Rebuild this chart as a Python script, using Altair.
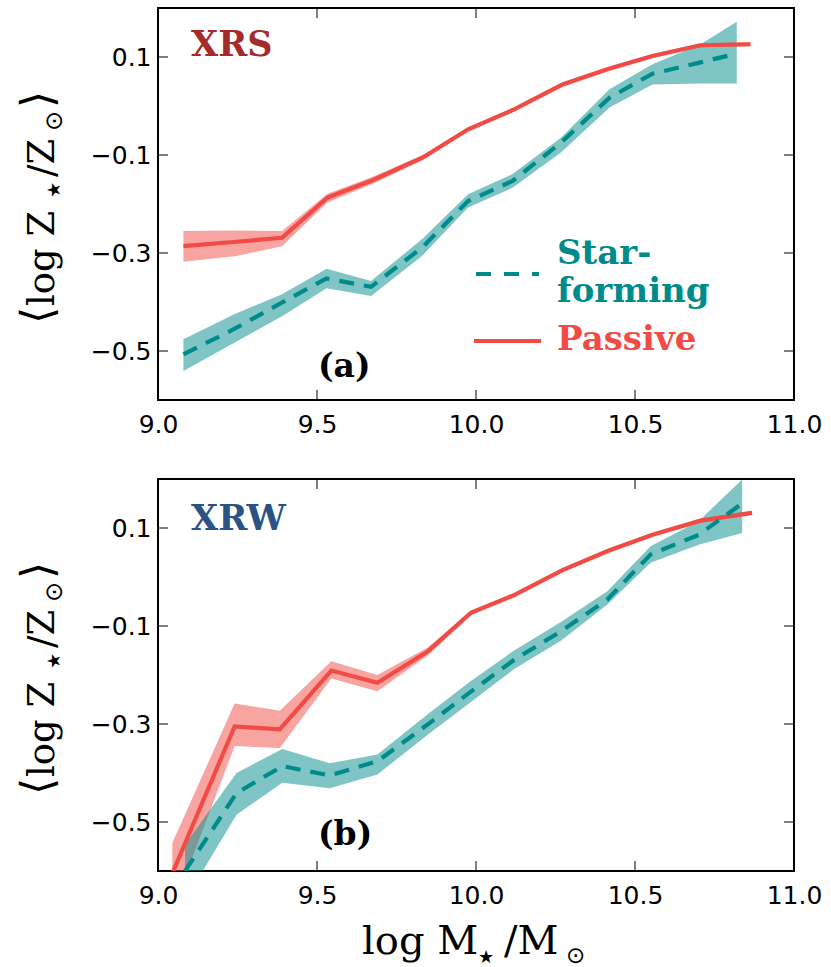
import altair as alt
import pandas as pd

# ---------------- data ----------------
X_TICKS = [9.0, 9.5, 10.0, 10.5, 11.0]
Y_TICKS = [0.1, -0.1, -0.3, -0.5]

# Panel (a) XRS
xrs_pas_x = [9.08, 9.247, 9.39, 9.533, 9.677, 9.833, 9.974, 10.12, 10.272, 10.418, 10.555, 10.706, 10.863]
xrs_pas_y = [-0.286, -0.277, -0.269, -0.187, -0.151, -0.105, -0.048, -0.007, 0.044, 0.076, 0.102, 0.124, 0.126]
xrs_pas_lo = [-0.318, -0.306, -0.286, -0.197, -0.158, -0.110, -0.052, -0.011, 0.040, 0.072, 0.098, 0.120, 0.122]
xrs_pas_hi = [-0.255, -0.254, -0.255, -0.179, -0.144, -0.100, -0.044, -0.003, 0.048, 0.080, 0.106, 0.128, 0.130]

xrs_sf_x = [9.08, 9.24, 9.39, 9.53, 9.67, 9.83, 9.975, 10.115, 10.267, 10.42, 10.555, 10.706, 10.82]
xrs_sf_y = [-0.507, -0.455, -0.401, -0.352, -0.369, -0.289, -0.194, -0.153, -0.075, 0.017, 0.066, 0.089, 0.107]
xrs_sf_lo = [-0.541, -0.483, -0.429, -0.372, -0.388, -0.306, -0.207, -0.167, -0.095, -0.003, 0.044, 0.046, 0.046]
xrs_sf_hi = [-0.476, -0.425, -0.384, -0.332, -0.357, -0.272, -0.180, -0.139, -0.065, 0.034, 0.085, 0.126, 0.172]

# Panel (b) XRW
xrw_pas_x = [9.045, 9.241, 9.383, 9.545, 9.69, 9.848, 9.984, 10.12, 10.272, 10.418, 10.555, 10.706, 10.868]
xrw_pas_y = [-0.605, -0.305, -0.311, -0.191, -0.216, -0.152, -0.073, -0.037, 0.014, 0.054, 0.086, 0.115, 0.131]
xrw_pas_lo = [-0.680, -0.345, -0.349, -0.207, -0.233, -0.160, -0.077, -0.041, 0.010, 0.050, 0.082, 0.111, 0.127]
xrw_pas_hi = [-0.543, -0.258, -0.273, -0.172, -0.200, -0.144, -0.069, -0.033, 0.018, 0.058, 0.090, 0.119, 0.135]

xrw_sf_x = [9.085, 9.247, 9.391, 9.54, 9.69, 9.848, 9.984, 10.12, 10.267, 10.413, 10.549, 10.70, 10.837]
xrw_sf_y = [-0.600, -0.441, -0.386, -0.405, -0.376, -0.301, -0.234, -0.169, -0.111, -0.046, 0.046, 0.086, 0.150]
xrw_sf_lo = [-0.660, -0.485, -0.420, -0.431, -0.403, -0.322, -0.255, -0.188, -0.130, -0.056, 0.029, 0.066, 0.090]
xrw_sf_hi = [-0.546, -0.400, -0.351, -0.380, -0.362, -0.280, -0.212, -0.150, -0.092, -0.029, 0.063, 0.114, 0.199]

# ---------------- styling ----------------
W, H = 636, 392
TEAL = "#008B8B"
RED = "#F24B45"
SERIF = "DejaVu Serif, DejaVu Sans"
SANS = "DejaVu Sans"
TICK = 10

xs = alt.Scale(domain=[9, 11], nice=False, zero=False)
ys = alt.Scale(domain=[-0.6, 0.2], nice=False, zero=False)
xax = alt.Axis(values=X_TICKS, format=".1f", ticks=False, tickSize=0, labelPadding=12,
               grid=False, domain=False, title=None, labelFont=SANS, labelFontSize=25,
               labelColor="black", labelFlush=False)
yax = alt.Axis(values=Y_TICKS, format=".1f", ticks=False, tickSize=0, labelPadding=7,
               grid=False, domain=False, title=None, labelFont=SANS, labelFontSize=25,
               labelColor="black")


def txt(s, x, y, size, color="black", bold=False, angle=None, baseline="alphabetic", font=SERIF):
    kw = dict(text=s, align="left", baseline=baseline, font=font, fontSize=size,
              color=color, fontWeight="bold" if bold else "normal")
    if angle is not None:
        kw["angle"] = angle
    return alt.Chart(pd.DataFrame({"d": [0]})).mark_text(**kw).encode(
        x=alt.value(x), y=alt.value(y))


def panel(sf, pa, tag, tag_color, tag_y, letter, letter_y, legend, xtitle):
    sf_df = pd.DataFrame({"x": sf[0], "y": sf[1], "lo": sf[2], "hi": sf[3]})
    pa_df = pd.DataFrame({"x": pa[0], "y": pa[1], "lo": pa[2], "hi": pa[3]})
    X = alt.X("x:Q", scale=xs, axis=xax)

    pa_band = alt.Chart(pa_df).mark_area(clip=True, color=RED, opacity=0.5).encode(
        x=X, y=alt.Y("lo:Q", scale=ys, axis=yax), y2="hi:Q")
    sf_band = alt.Chart(sf_df).mark_area(clip=True, color=TEAL, opacity=0.5).encode(
        x=X, y=alt.Y("lo:Q", scale=ys, axis=yax), y2="hi:Q")
    pa_line = alt.Chart(pa_df).mark_line(clip=True, color=RED, strokeWidth=4.2).encode(
        x=X, y=alt.Y("y:Q", scale=ys, axis=yax))
    sf_line = alt.Chart(sf_df).mark_line(clip=True, color=TEAL, strokeWidth=4.2,
                                         strokeDash=[15, 10]).encode(
        x=X, y=alt.Y("y:Q", scale=ys, axis=yax))

    ytd = pd.DataFrame({"y": Y_TICKS})
    xtd = pd.DataFrame({"x": X_TICKS[1:-1]})
    Yt = alt.Y("y:Q", scale=ys, axis=yax)
    Xt = alt.X("x:Q", scale=xs, axis=xax)
    ticks = [
        alt.Chart(ytd).mark_rule(color="black", strokeWidth=1).encode(
            y=Yt, x=alt.value(0), x2=alt.value(TICK)),
        alt.Chart(ytd).mark_rule(color="black", strokeWidth=1).encode(
            y=Yt, x=alt.value(W - TICK), x2=alt.value(W)),
        alt.Chart(xtd).mark_rule(color="black", strokeWidth=1).encode(
            x=Xt, y=alt.value(0), y2=alt.value(TICK)),
        alt.Chart(xtd).mark_rule(color="black", strokeWidth=1).encode(
            x=Xt, y=alt.value(H - TICK), y2=alt.value(H)),
    ]

    texts = [
        txt(tag, 33, tag_y, 35, color=tag_color, bold=True),
        txt(letter, 160, letter_y, 33, bold=True),
        # y-axis title  <log Z*/Zsun>
        txt("\u27e8", -106, 316, 44, angle=270),
        txt("log Z", -104, 298, 37, angle=270),
        txt("\u2605", -103.5, 190, 18, angle=270, baseline="middle", font=SANS),
        txt("/Z", -104, 169, 37, angle=270),
        txt("\u2299", -103, 123, 24, angle=270, baseline="middle", font=SANS),
        txt("\u27e9", -106, 100, 44, angle=270),
    ]
    if legend:
        d = pd.DataFrame({"d": [0]})
        texts += [
            alt.Chart(d).mark_rule(color=TEAL, strokeWidth=4.2, strokeDash=[15, 13]).encode(
                x=alt.value(318), x2=alt.value(381), y=alt.value(266)),
            alt.Chart(d).mark_rule(color=RED, strokeWidth=4.2).encode(
                x=alt.value(316), x2=alt.value(383), y=alt.value(333)),
            txt("Star-", 399, 256, 34, color=TEAL, bold=True),
            txt("forming", 399, 294, 34, color=TEAL, bold=True),
            txt("Passive", 399, 342, 34, color=RED, bold=True),
        ]
    if xtitle:
        texts += [
            txt("log M", 204, 475, 40),
            txt("\u2605", 320, 479, 18, baseline="middle", font=SANS),
            txt("/M", 346, 475, 40),
            txt("\u2299", 408, 484, 23, font=SANS),
        ]
    return alt.layer(pa_band, sf_band, pa_line, sf_line, *ticks, *texts).properties(
        width=W, height=H)


top = panel((xrs_sf_x, xrs_sf_y, xrs_sf_lo, xrs_sf_hi),
            (xrs_pas_x, xrs_pas_y, xrs_pas_lo, xrs_pas_hi),
            "XRS", "#A52A2A", 48, "(a)", 369, True, False)
bottom = panel((xrw_sf_x, xrw_sf_y, xrw_sf_lo, xrw_sf_hi),
               (xrw_pas_x, xrw_pas_y, xrw_pas_lo, xrw_pas_hi),
               "XRW", "#2B5285", 51, "(b)", 366, False, True)

chart = alt.vconcat(top, bottom, spacing=79, bounds="flush").properties(
    padding={"left": 16, "top": 6, "right": 5, "bottom": 1},
    background="white",
).configure_view(stroke="black", strokeWidth=2)

chart.save("out.html", embed_options={"renderer": "svg", "actions": False})
